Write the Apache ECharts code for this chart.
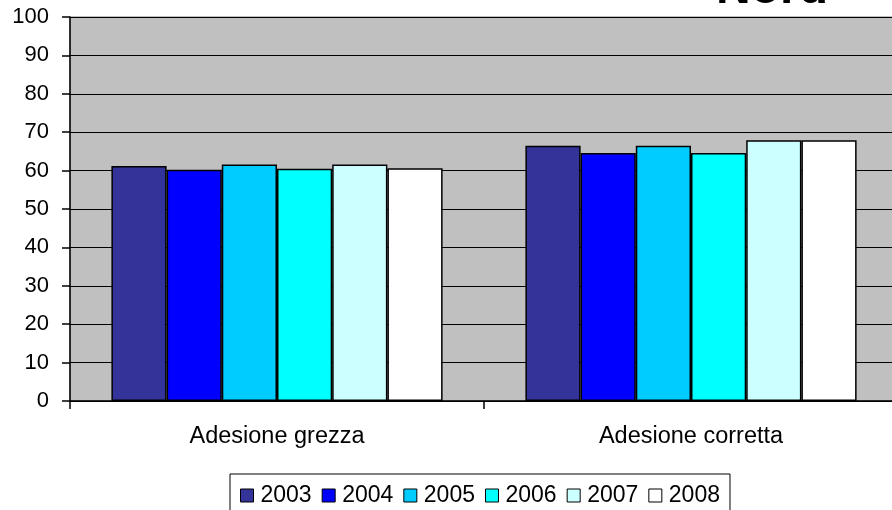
<!DOCTYPE html>
<html>
<head>
<meta charset="utf-8">
<script src="https://cdn.jsdelivr.net/npm/echarts@6/dist/echarts.min.js"></script>
<style>
  html, body { margin: 0; padding: 0; background: #ffffff; overflow: hidden; }
  #chart { width: 900px; height: 510px; }
</style>
</head>
<body>
<div id="chart"></div>
<script>
// Adherence rates (%) by year, North area
const categories = ['Adesione grezza', 'Adesione corretta'];
const years = ['2003', '2004', '2005', '2006', '2007', '2008'];
const values2003 = [61.2, 66.5];
const values2004 = [60.2, 64.6];
const values2005 = [61.6, 66.5];
const values2006 = [60.5, 64.6];
const values2007 = [61.6, 67.9];
const values2008 = [60.6, 67.9];
const yTicks = [0, 10, 20, 30, 40, 50, 60, 70, 80, 90, 100];
const titleText = 'Nord';

const seriesValues = [values2003, values2004, values2005, values2006, values2007, values2008];
const palette = ['#333399', '#0000FF', '#00CCFF', '#00FFFF', '#CCFFFF', '#FFFFFF'];
const FONT = '"Liberation Sans", Arial, sans-serif';

const chart = echarts.init(document.getElementById('chart'), null, { renderer: 'canvas' });

chart.setOption({
  animation: false,
  backgroundColor: '#ffffff',
  grid: {
    left: 70, top: 17, width: 828, height: 384,
    outerBoundsMode: 'none',
    show: true,
    backgroundColor: '#C0C0C0',
    borderColor: '#808080',
    borderWidth: 1
  },
  graphic: [{
    type: 'text',
    left: 716,
    top: -34,
    z: 100,
    style: {
      text: titleText,
      font: 'bold 48px ' + FONT,
      fill: '#000000'
    }
  }],
  legend: {
    left: 230,
    top: 474,
    padding: [10, 10, 10, 10],
    itemWidth: 13,
    itemHeight: 13,
    itemGap: 10,
    borderColor: '#000000',
    borderWidth: 1,
    icon: 'rect',
    itemStyle: { borderColor: '#000000', borderWidth: 1 },
    textStyle: { fontFamily: FONT, fontSize: 23, color: '#000000', padding: [0, 0, 0, 2] },
    data: years
  },
  xAxis: {
    type: 'category',
    data: categories,
    axisLine: { show: true, lineStyle: { color: '#000000', width: 1.5 } },
    axisTick: { show: true, length: 8, lineStyle: { color: '#000000', width: 1.5 } },
    axisLabel: { margin: 24, fontFamily: FONT, fontSize: 23.5, color: '#000000' },
    splitLine: { show: false }
  },
  yAxis: {
    type: 'value',
    min: yTicks[0],
    max: yTicks[yTicks.length - 1],
    interval: yTicks[1] - yTicks[0],
    axisLine: { show: true, lineStyle: { color: '#000000', width: 1.5 } },
    axisTick: { show: true, length: 8, lineStyle: { color: '#000000', width: 1.5 } },
    axisLabel: { margin: 21, fontFamily: FONT, fontSize: 22, color: '#000000' },
    splitLine: { show: true, lineStyle: { color: '#000000', width: 1 } }
  },
  series: years.map((y, i) => ({
    name: y,
    type: 'bar',
    data: seriesValues[i],
    barGap: '0%',
    barCategoryGap: '20%',
    itemStyle: { color: palette[i], borderColor: '#000000', borderWidth: 1.5 }
  }))
});
</script>
</body>
</html>
